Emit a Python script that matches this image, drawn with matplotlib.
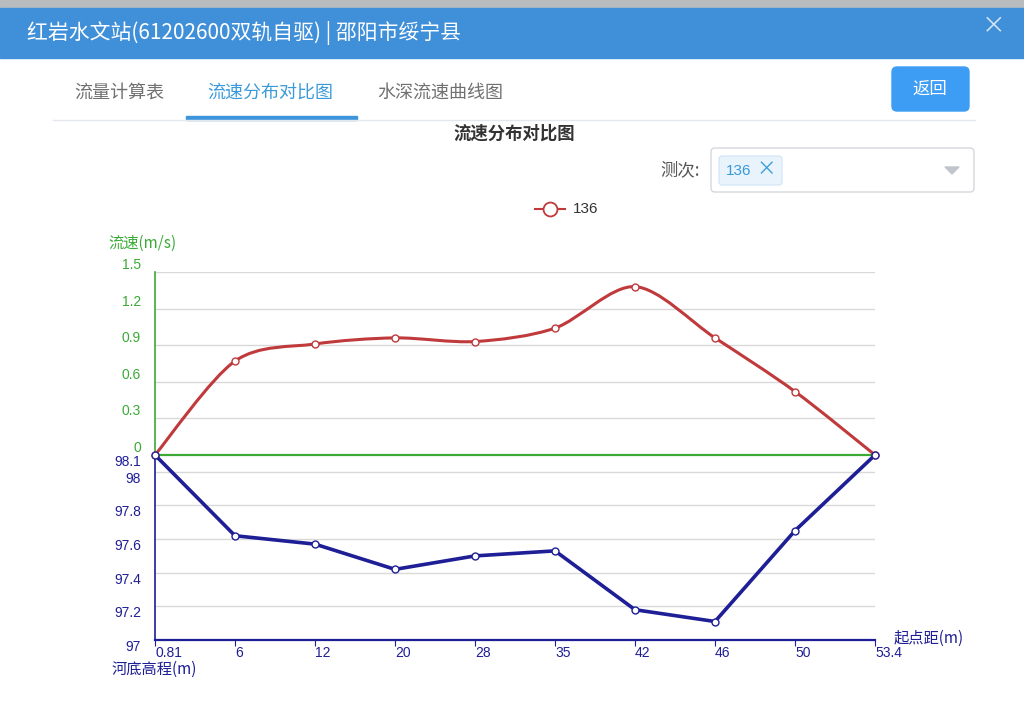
import matplotlib
matplotlib.use('Agg')
import matplotlib.pyplot as plt
from matplotlib.patches import FancyBboxPatch, Rectangle, Polygon
from matplotlib.path import Path
from matplotlib.patches import PathPatch

plt.rcParams['font.family'] = ['Noto Sans CJK SC', 'DejaVu Sans']
NUMFONT = ['Liberation Sans', 'Noto Sans CJK SC']

# data
distances = ['0.81', '6', '12', '20', '28', '35', '42', '46', '50', '53.4']
velocity = [0, 0.77, 0.91, 0.96, 0.93, 1.04, 1.38, 0.96, 0.52, 0]
bed_elev = [98.1, 97.62, 97.57, 97.42, 97.5, 97.53, 97.18, 97.11, 97.65, 98.1]
vel_ticks = [0, 0.3, 0.6, 0.9, 1.2, 1.5]
vel_tick_labels = ['0', '0.3', '0.6', '0.9', '1.2', '1.5']
elev_ticks = [97, 97.2, 97.4, 97.6, 97.8, 98, 98.1]
elev_tick_labels = ['97', '97.2', '97.4', '97.6', '97.8', '98', '98.1']
series_name = '136'

W, H = 1024, 713
RED = '#c0393b'
NAVY = '#1e1e96'
GREEN = '#3aaa35'
GRID = '#d9d9d9'

fig = plt.figure(figsize=(W / 100, H / 100), dpi=100)

# page / UI layer in pixel coords
bg = fig.add_axes([0, 0, 1, 1])
bg.set_xlim(0, W)
bg.set_ylim(H, 0)
bg.axis('off')
bg.add_patch(Rectangle((0, 0), W, 8, color='#b9bcbf'))
bg.add_patch(Rectangle((0, 8), W, 50, color='#3f8fd9'))
bg.text(27, 33, '红岩水文站(61202600双轨自驱) | 邵阳市绥宁县', color='white',
        fontsize=15, fontweight='medium', va='center', ha='left')
bg.text(994, 27, '×', color='#d6e6f5', fontsize=17, va='center', ha='center')

# tabs
bg.text(74, 93, '流量计算表', color='#707070', fontsize=13, va='center')
bg.text(207, 93, '流速分布对比图', color='#3a9ad9', fontsize=13, va='center')
bg.text(377, 93, '水深流速曲线图', color='#707070', fontsize=13, va='center')
bg.plot([53, 975], [119.5, 119.5], color='#e4e7ed', lw=1)
bg.add_patch(Rectangle((186, 116), 171, 3.5, color='#3f95dc'))

# back button
bg.add_patch(FancyBboxPatch((892, 67), 77, 44, boxstyle='round,pad=0,rounding_size=5',
                            color='#3d9df5'))
bg.text(930, 89, '返回', color='white', fontsize=12.5, va='center', ha='center')

# title
bg.text(514, 134, '流速分布对比图', color='#333333', fontsize=12.5, fontweight='bold',
        va='center', ha='center')

# select box
bg.text(700, 170, '测次:', color='#555555', fontsize=12.5, va='center', ha='right')
bg.add_patch(FancyBboxPatch((711, 148), 263, 44, boxstyle='round,pad=0,rounding_size=4',
                            facecolor='white', edgecolor='#d4d7dc', lw=1))
bg.add_patch(FancyBboxPatch((719, 156), 63, 29, boxstyle='round,pad=0,rounding_size=3',
                            facecolor='#e8f3fc', edgecolor='#cfe3f5', lw=0.8))
bg.text(726, 171, '136', color='#3a9ad9', fontsize=11, va='center', family=NUMFONT)
bg.text(766, 170, '×', color='#3a9ad9', fontsize=14, va='center', ha='center')
bg.add_patch(Polygon([[945, 167], [959, 167], [952, 174]], closed=True, color='#c0c4cc'))

# legend
bg.plot([535, 565], [209, 209], color=RED, lw=1.5)
bg.plot([550], [209], marker='o', ms=10, mfc='white', mec=RED, mew=1.3)
bg.text(573, 209, series_name, color='#333333', fontsize=11, va='center', family=NUMFONT)


def px_rect(left, top, right, bottom):
    return [left / W, 1 - bottom / H, (right - left) / W, (bottom - top) / H]


x = list(range(len(distances)))

# ---- velocity (top) ----
ax1 = fig.add_axes(px_rect(155, 272, 875, 455))
ax1.set_xlim(0, len(x) - 1)
ax1.set_ylim(0, 1.5)
for s in ['top', 'right']:
    ax1.spines[s].set_visible(False)
ax1.spines['left'].set_color(GREEN)
ax1.spines['bottom'].set_color(GREEN)
ax1.spines['left'].set_linewidth(1.2)
ax1.spines['bottom'].set_linewidth(1.6)
ax1.set_xticks([])
ax1.set_yticks(vel_ticks)
ax1.set_yticklabels(vel_tick_labels, color=GREEN, fontsize=10, family=NUMFONT)
ax1.tick_params(axis='y', length=0, pad=10)
for lab in ax1.get_yticklabels():
    lab.set_va('bottom')
for t in vel_ticks[1:]:
    ax1.axhline(t, color=GRID, lw=1, zorder=0)
ax1.patch.set_alpha(0)

# smooth curve through points (bezier segments)
k = 0.15
verts = [(x[0], velocity[0])]
codes = [Path.MOVETO]
n = len(x)
for i in range(n - 1):
    p0 = (x[max(i - 1, 0)], velocity[max(i - 1, 0)])
    p1 = (x[i], velocity[i])
    p2 = (x[i + 1], velocity[i + 1])
    p3 = (x[min(i + 2, n - 1)], velocity[min(i + 2, n - 1)])
    c1 = (p1[0] + (p2[0] - p0[0]) * k, p1[1] + (p2[1] - p0[1]) * k)
    c2 = (p2[0] - (p3[0] - p1[0]) * k, p2[1] - (p3[1] - p1[1]) * k)
    verts += [c1, c2, p2]
    codes += [Path.CURVE4] * 3
ax1.add_patch(PathPatch(Path(verts, codes), facecolor='none', edgecolor=RED, lw=2.2,
                        clip_on=False, zorder=3))
ax1.plot(x, velocity, linestyle='none', marker='o', ms=5, mfc='white', mec=RED,
         mew=1, clip_on=False, zorder=4)
bg.text(108, 243, '流速(m/s)', color=GREEN, fontsize=11, va='center', ha='left')

# ---- bed elevation (bottom) ----
ax2 = fig.add_axes(px_rect(155, 455, 875, 640))
ax2.set_xlim(0, len(x) - 1)
ax2.set_ylim(97, 98.1)
for s in ['top', 'right']:
    ax2.spines[s].set_visible(False)
ax2.spines['left'].set_color(NAVY)
ax2.spines['bottom'].set_color(NAVY)
ax2.spines['left'].set_linewidth(1.2)
ax2.spines['bottom'].set_linewidth(1.6)
ax2.set_yticks(elev_ticks)
ax2.set_yticklabels(elev_tick_labels, color=NAVY, fontsize=10, family=NUMFONT)
ax2.tick_params(axis='y', length=0, pad=10)
for lab in ax2.get_yticklabels():
    lab.set_va('top')
ax2.set_xticks(x)
ax2.set_xticklabels(distances, color=NAVY, fontsize=10, ha='left', family=NUMFONT)
ax2.tick_params(axis='x', length=4, color=NAVY, pad=0, direction='out')
for t in elev_ticks[1:-1]:
    ax2.axhline(t, color=GRID, lw=1, zorder=0)
ax2.patch.set_alpha(0)
ax2.plot(x, bed_elev, color=NAVY, lw=2.6, marker='o', ms=5, mfc='white', mec=NAVY,
         mew=1, clip_on=False, zorder=3)
bg.text(112, 669, '河底高程(m)', color=NAVY, fontsize=11, va='center', ha='left')
bg.text(894, 638, '起点距(m)', color=NAVY, fontsize=11, va='center', ha='left')

fig.savefig('out.png', dpi=100)
